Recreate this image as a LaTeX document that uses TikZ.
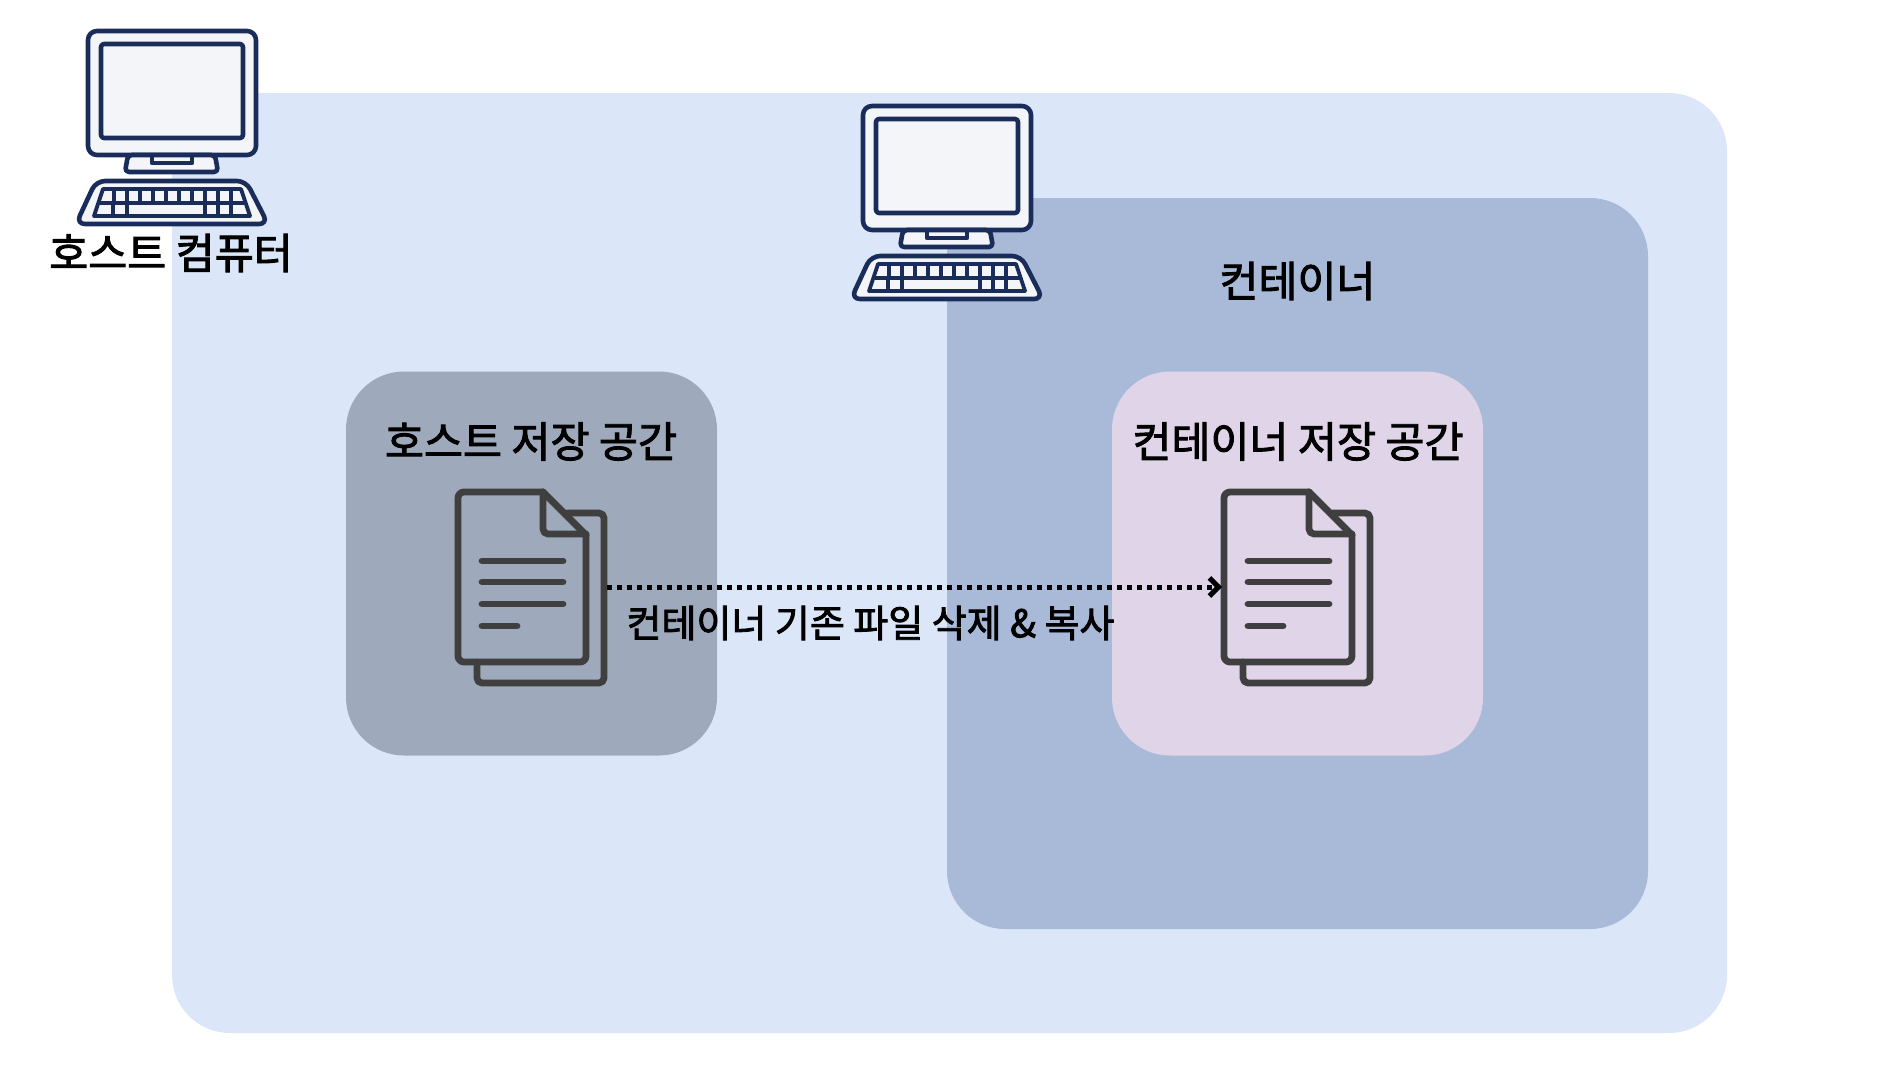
\documentclass[tikz,border=0pt]{standalone}
\usepackage{fontspec}
\setmainfont{Noto Sans CJK KR}[FakeBold=2.2]
\usetikzlibrary{arrows.meta}
\definecolor{outerblue}{HTML}{DBE6F9}
\definecolor{contblue}{HTML}{A9BAD9}
\definecolor{hostgrey}{HTML}{9EA9BB}
\definecolor{contpink}{HTML}{E0D5E8}
\definecolor{navy}{HTML}{1A2D5A}
\definecolor{screenfill}{HTML}{F4F5F8}
\definecolor{docgrey}{HTML}{3F3F3F}
\tikzset{
  region/.style={anchor=north west,inner sep=0pt,outer sep=0pt,rounded corners=58pt},
  label/.style={inner sep=0pt,text=black,font=\fontsize{42.4}{46}\selectfont},
  pcline/.style={draw=navy,line width=4.6pt,line join=round},
  pcfill/.style={pcline,fill=screenfill},
  docline/.style={draw=docgrey,line width=6.8pt,line cap=round,line join=round},
  flow/.style={draw=black,line width=5pt,dash pattern=on 5pt off 5pt,
     -{Straight Barb[length=9pt,width=18pt,line width=5pt]}},
  computer/.pic={
    \draw[pcfill,rounded corners=9pt] (88,31) rectangle (256,155);
    \draw[pcline,rounded corners=3pt] (101,44) rectangle (243,138);
    \draw[pcfill,rounded corners=4pt] (128,155) -- (125,172) -- (218,172) -- (215,155) -- cycle;
    \draw[pcline] (152,155) -- (152,163) -- (192,163) -- (192,155);
    \draw[pcfill,rounded corners=9pt] (96,181) -- (246,181) -- (268,224) -- (76,224) -- cycle;
    \draw[pcline,line width=3.8pt] (103,189) -- (241,189) -- (250,216) -- (94,216) -- cycle;
    \draw[pcline,line width=3.8pt] (98,203) -- (246,203);
    \foreach \x in {114,127,140,153,166,179,192,205,218,231}
      \draw[pcline,line width=3.8pt] (\x,189) -- (\x,203);
    \foreach \x in {113,127,205,218,231}
      \draw[pcline,line width=3.8pt] (\x,203) -- (\x,216);
  },
  document/.pic={
    \draw[docline,rounded corners=5pt] (567,513) -- (604,513) -- (604,683) -- (477,683) -- (477,662);
    \draw[docline,rounded corners=6pt] (543,492) -- (458,492) -- (458,662) -- (586,662) -- (586,535);
    \draw[docline] (586,535) -- (543,492);
    \draw[docline,rounded corners=5pt] (543,492) -- (543,534) -- (586,534);
    \draw[docline] (482,561) -- (563,561);
    \draw[docline] (482,582) -- (563,582);
    \draw[docline] (482,604) -- (563,604);
    \draw[docline] (482,626) -- (517,626);
  },
}
\begin{document}
\begin{tikzpicture}[x=1pt,y=-1pt]
\useasboundingbox (0,0) rectangle (1904,1092);
\node[region,fill=outerblue,minimum width=1555pt,minimum height=940pt] (outer) at (172,93) {};
\node[region,fill=contblue,minimum width=701pt,minimum height=731pt] (container) at (947,198) {};
\node[region,fill=hostgrey,minimum width=371pt,minimum height=384pt] (hoststore) at (346,371.5) {};
\node[region,fill=contpink,minimum width=371pt,minimum height=384pt] (contstore) at (1112,371.5) {};
\pic at (0,0) {computer};
\pic at (775,75) {computer};
\pic at (0,0) {document};
\pic at (766,0) {document};
\coordinate (docA) at (607,587);
\coordinate (docB) at (1222,587);
\draw[flow] (docA) -- (docB);
\node[label] (hostpc) at (171,253) {호스트 컴퓨터};
\node[label] (conttitle) at (1297.5,281) {컨테이너};
\node[label] (hostlabel) at (531,441.5) {호스트 저장 공간};
\node[label] (contlabel) at (1298,441.5) {컨테이너 저장 공간};
\node[label,font=\fontsize{38}{42}\selectfont] (copylabel) at (870.5,623) {컨테이너 기존 파일 삭제 \& 복사};
\end{tikzpicture}
\end{document}
